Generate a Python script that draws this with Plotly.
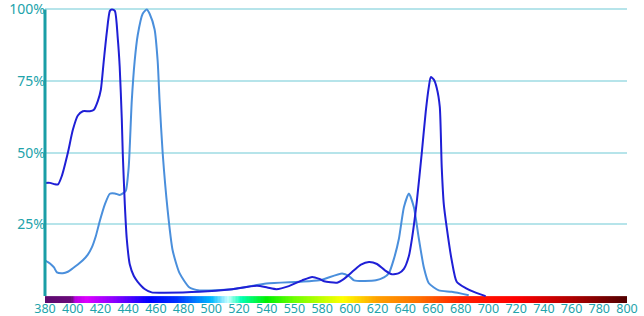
import plotly.graph_objects as go
import numpy as np

# Dark blue curve (wavelength nm, relative intensity)
a_nm = [380, 383.6, 387.2, 389.4, 392.2, 396.5, 400.1, 403.7, 407.3, 412.4, 415.3, 418.1,
        420.3, 422.4, 424.6, 426.8, 428.2, 430.4, 432.5, 433.9, 435.4, 436.1, 437.6, 439.0,
        441.2, 444.1, 446.9, 451.9, 457.0, 466.3, 491.5, 515.0, 533.0, 540.4, 547.0, 556.0,
        565.6, 572.8, 578.0, 581.4, 590.8, 595.8, 603.0, 608.0, 613.8, 619.6, 625.3, 630.4,
        635.4, 639.0, 642.6, 644.8, 648.3, 651.9, 654.8, 657.0, 658.4, 660.6, 662.7, 664.9,
        666.3, 667.8, 669.9, 673.5, 677.1, 683.6, 690.8, 698.0]
a_val = [0.395, 0.395, 0.39, 0.39, 0.42, 0.50, 0.58, 0.63, 0.645, 0.645, 0.65, 0.68,
         0.72, 0.82, 0.92, 0.995, 1.0, 0.995, 0.90, 0.80, 0.62, 0.50, 0.32, 0.20,
         0.11, 0.07, 0.05, 0.025, 0.013, 0.012, 0.015, 0.024, 0.036, 0.03, 0.024, 0.035,
         0.055, 0.067, 0.06, 0.052, 0.047, 0.06, 0.09, 0.11, 0.119, 0.112, 0.09, 0.076,
         0.08, 0.095, 0.14, 0.20, 0.33, 0.50, 0.645, 0.73, 0.764, 0.755, 0.726, 0.66,
         0.45, 0.32, 0.24, 0.125, 0.05, 0.028, 0.012, 0.0]

# Light blue curve
b_nm = [380, 383.6, 386.5, 388.6, 392.9, 396.5, 400.1, 403.7, 407.3, 410.9, 413.8, 416.7,
        419.6, 423.2, 426.8, 430.4, 434.0, 436.8, 438.3, 440.4, 442.6, 444.7, 446.9, 450.5,
        453.4, 455.5, 459.1, 461.3, 462.7, 464.9, 468.5, 472.1, 477.1, 484.3, 491.5, 515.3,
        539.7, 563.5, 578.0, 594.4, 599.4, 603.0, 618.8, 624.6, 628.2, 631.8, 635.4, 639.0,
        642.6, 646.2, 649.8, 653.4, 657.0, 664.2, 673.5, 685.8]
b_val = [0.125, 0.114, 0.10, 0.083, 0.08, 0.085, 0.097, 0.11, 0.125, 0.145, 0.17, 0.21,
         0.263, 0.32, 0.357, 0.358, 0.353, 0.36, 0.367, 0.45, 0.68, 0.82, 0.91, 0.985,
         1.0, 0.985, 0.93, 0.82, 0.68, 0.50, 0.30, 0.16, 0.08, 0.03, 0.02, 0.024,
         0.044, 0.05, 0.055, 0.079, 0.07, 0.055, 0.055, 0.065, 0.08, 0.13, 0.20, 0.31,
         0.358, 0.31, 0.20, 0.10, 0.045, 0.02, 0.015, 0.003]

x_ticks = list(range(380, 801, 20))
x_tick_labels = [str(v) for v in x_ticks]
x_tick_labels[x_ticks.index(560)] = "550"
y_ticks = [0.25, 0.5, 0.75, 1.0]
y_tick_labels = ["25%", "50%", "75%", "100%"]

# Spectrum bar colour stops (nm, colour)
spec_nm = [380, 399, 402, 410, 430, 455, 475, 500, 512, 522, 540, 560, 595, 620, 650, 680, 720, 760, 800]
spec_col = ["#5c0a6e", "#6a0a7a", "#b800e0", "#dc00ff", "#8a00ff", "#0000ff", "#0030ff",
            "#00b8ff", "#c8ffff", "#00ffb0", "#00f000", "#70ff00", "#ffff00", "#ffa000",
            "#ff7000", "#ff2000", "#ff0000", "#b00000", "#500000"]
spec_band = [-0.024, 0.0]

teal = "#22a3ab"
spec_edges = np.arange(380, 801, 1.0)
spec_centres = spec_edges[:-1] + 0.5
cs = [[(n - 380) / 420, c] for n, c in zip(spec_nm, spec_col)]

fig = go.Figure()
fig.add_trace(go.Heatmap(x=spec_edges, y=spec_band, z=[spec_centres],
                         colorscale=cs, zmin=380, zmax=800, showscale=False, hoverinfo="skip"))
fig.add_trace(go.Scatter(x=b_nm, y=b_val, mode="lines",
                         line=dict(color="#4a8fdc", width=2, shape="spline", smoothing=0.6)))
fig.add_trace(go.Scatter(x=a_nm, y=a_val, mode="lines",
                         line=dict(color="#1f1fd6", width=2, shape="spline", smoothing=0.6)))

fig.add_shape(type="line", xref="paper", x0=0, x1=0, yref="y", y0=0, y1=1.0,
              line=dict(color="#1a9ea6", width=3))

fig.update_layout(
    width=644, height=316,
    margin=dict(l=45, r=17, t=8, b=13),
    paper_bgcolor="white", plot_bgcolor="white",
    showlegend=False,
    font=dict(family="Noto Sans", color=teal),
    xaxis=dict(range=[380, 800], tickvals=x_ticks, ticktext=x_tick_labels,
               showgrid=False, zeroline=False, showline=False, ticks="",
               ticklabeloverflow="allow", ticklabelstandoff=-4,
               tickfont=dict(size=12.5, color=teal), automargin=False),
    yaxis=dict(range=[-0.024, 1.005], tickvals=y_ticks, ticktext=y_tick_labels,
               showgrid=True, gridcolor="#b6e4ea", gridwidth=1.5, zeroline=False,
               showline=False, ticks="", ticklabeloverflow="allow", ticklabelstandoff=-1,
               tickfont=dict(size=14, color=teal), automargin=False),
)

fig.write_html("out.html")
